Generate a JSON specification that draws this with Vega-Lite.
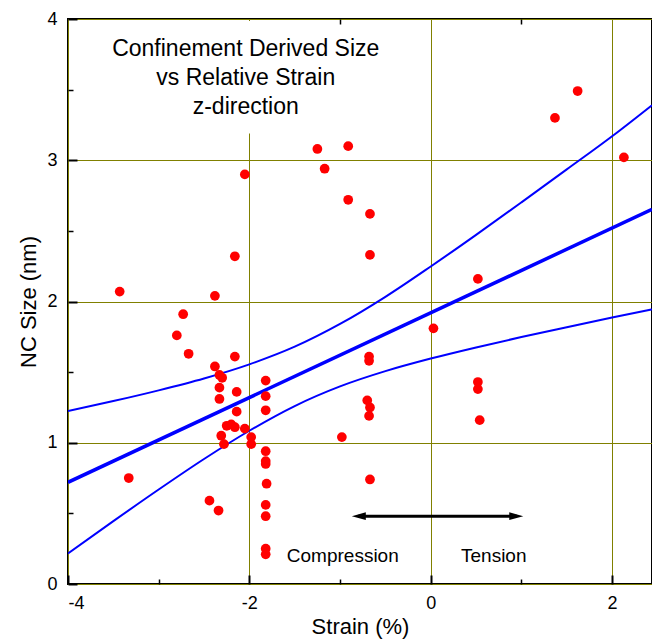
{
  "$schema": "https://vega.github.io/schema/vega-lite/v6.json",
  "width": 584,
  "height": 565,
  "autosize": "none",
  "padding": {"left": 68, "top": 19, "right": 0, "bottom": 57},
  "config": {
    "font": "Liberation Sans",
    "view": {"stroke": "black", "strokeWidth": 2},
    "axis": {"labelColor": "black", "titleColor": "black", "tickColor": "black", "titleFontWeight": "normal"}
  },
  "datasets": {
    "points": [
      {"strain": -3.43, "size": 2.07}, {"strain": -2.73, "size": 1.91}, {"strain": -2.80, "size": 1.76},
      {"strain": -2.67, "size": 1.63}, {"strain": -3.33, "size": 0.75}, {"strain": -2.38, "size": 2.04},
      {"strain": -2.16, "size": 2.32}, {"strain": -2.05, "size": 2.90}, {"strain": -2.38, "size": 1.54},
      {"strain": -2.16, "size": 1.61}, {"strain": -2.33, "size": 1.48}, {"strain": -2.30, "size": 1.46},
      {"strain": -2.33, "size": 1.39}, {"strain": -2.33, "size": 1.31}, {"strain": -2.14, "size": 1.36},
      {"strain": -2.14, "size": 1.22}, {"strain": -2.25, "size": 1.12}, {"strain": -2.20, "size": 1.13},
      {"strain": -2.16, "size": 1.11}, {"strain": -2.05, "size": 1.10}, {"strain": -2.31, "size": 1.05},
      {"strain": -2.28, "size": 0.99}, {"strain": -1.98, "size": 1.04}, {"strain": -1.98, "size": 0.99},
      {"strain": -1.82, "size": 1.44}, {"strain": -1.82, "size": 1.33}, {"strain": -1.82, "size": 1.23},
      {"strain": -1.82, "size": 0.94}, {"strain": -1.82, "size": 0.87}, {"strain": -1.82, "size": 0.85},
      {"strain": -1.81, "size": 0.71}, {"strain": -1.82, "size": 0.56}, {"strain": -1.82, "size": 0.48},
      {"strain": -1.82, "size": 0.25}, {"strain": -1.82, "size": 0.21}, {"strain": -2.44, "size": 0.59},
      {"strain": -2.34, "size": 0.52}, {"strain": -1.25, "size": 3.08}, {"strain": -0.91, "size": 3.10},
      {"strain": -1.17, "size": 2.94}, {"strain": -0.91, "size": 2.72}, {"strain": -0.67, "size": 2.62},
      {"strain": -0.67, "size": 2.33}, {"strain": -0.68, "size": 1.61}, {"strain": -0.68, "size": 1.58},
      {"strain": -0.70, "size": 1.30}, {"strain": -0.67, "size": 1.25}, {"strain": -0.68, "size": 1.19},
      {"strain": -0.98, "size": 1.04}, {"strain": -0.67, "size": 0.74}, {"strain": 0.03, "size": 1.81},
      {"strain": 0.52, "size": 2.16}, {"strain": 0.52, "size": 1.43}, {"strain": 0.52, "size": 1.38},
      {"strain": 0.54, "size": 1.16}, {"strain": 1.37, "size": 3.30}, {"strain": 1.62, "size": 3.49},
      {"strain": 2.13, "size": 3.02}
    ],
    "bands": [
      {"band": "upper", "x": -4, "y": 1.224}, {"band": "upper", "x": -3.5, "y": 1.295},
      {"band": "upper", "x": -3, "y": 1.371}, {"band": "upper", "x": -2.5, "y": 1.455},
      {"band": "upper", "x": -2, "y": 1.555}, {"band": "upper", "x": -1.5, "y": 1.68},
      {"band": "upper", "x": -1, "y": 1.841}, {"band": "upper", "x": -0.5, "y": 2.033},
      {"band": "upper", "x": 0, "y": 2.248}, {"band": "upper", "x": 0.5, "y": 2.472},
      {"band": "upper", "x": 1, "y": 2.702}, {"band": "upper", "x": 1.5, "y": 2.935},
      {"band": "upper", "x": 2, "y": 3.17}, {"band": "upper", "x": 2.44, "y": 3.39},
      {"band": "lower", "x": -4, "y": 0.216}, {"band": "lower", "x": -3.5, "y": 0.445},
      {"band": "lower", "x": -3, "y": 0.669}, {"band": "lower", "x": -2.5, "y": 0.885},
      {"band": "lower", "x": -2, "y": 1.085}, {"band": "lower", "x": -1.5, "y": 1.26},
      {"band": "lower", "x": -1, "y": 1.399}, {"band": "lower", "x": -0.5, "y": 1.507},
      {"band": "lower", "x": 0, "y": 1.596}, {"band": "lower", "x": 0.5, "y": 1.675},
      {"band": "lower", "x": 1, "y": 1.748}, {"band": "lower", "x": 1.5, "y": 1.818},
      {"band": "lower", "x": 2, "y": 1.886}, {"band": "lower", "x": 2.44, "y": 1.944}
    ],
    "fit": [{"x": -4, "y": 0.72}, {"x": 2.44, "y": 2.652}],
    "box": [{"x1": -3.65, "x2": -0.45, "y1": 3.19, "y2": 3.985}],
    "arrow": [{"x": -0.80, "x2": 0.95, "y": 0.48}],
    "heads": [{"x": -0.793, "y": 0.48, "dir": "left"}, {"x": 0.943, "y": 0.48, "dir": "right"}],
    "labels": [{"x": -0.97, "y": 0.20, "text": "Compression"}, {"x": 0.695, "y": 0.20, "text": "Tension"}],
    "title": [{"x": -2.04, "y": 3.79, "text": "Confinement Derived Size\nvs Relative Strain\nz-direction"}]
  },
  "layer": [
    {
      "data": {"name": "box"},
      "mark": {"type": "rect", "fill": "white", "strokeWidth": 0},
      "encoding": {
        "x": {"field": "x1", "type": "quantitative", "scale": {"domain": [-4, 2.44], "nice": false, "zero": false},
              "axis": {"orient": "top", "values": [-1, 1], "tickSize": -5, "tickWidth": 1.5, "labels": false, "domain": false, "grid": false, "title": null, "zindex": 1}},
        "x2": {"field": "x2"},
        "y": {"field": "y1", "type": "quantitative", "scale": {"domain": [0, 4], "nice": false, "zero": false}, "axis": null},
        "y2": {"field": "y2"}
      }
    },
    {
      "data": {"name": "bands"},
      "mark": {"type": "line", "color": "#0000ff", "strokeWidth": 2, "interpolate": "monotone", "clip": true},
      "encoding": {
        "x": {"field": "x", "type": "quantitative", "scale": {"domain": [-4, 2.44], "nice": false, "zero": false},
              "axis": {"orient": "bottom", "values": [-3, -1, 1], "tickSize": -5, "tickWidth": 1.5, "labels": false, "domain": false, "grid": false, "title": null}},
        "y": {"field": "y", "type": "quantitative", "scale": {"domain": [0, 4], "nice": false, "zero": false},
              "axis": {"orient": "left", "values": [0.5, 1.5, 2.5, 3.5], "tickSize": -5, "tickWidth": 1.5, "labels": false, "domain": false, "grid": false, "title": null}},
        "detail": {"field": "band"}
      }
    },
    {
      "data": {"name": "fit"},
      "mark": {"type": "line", "color": "#0000ff", "strokeWidth": 3.5, "clip": true},
      "encoding": {
        "x": {"field": "x", "type": "quantitative", "scale": {"domain": [-4, 2.44], "nice": false, "zero": false}, "axis": null},
        "y": {"field": "y", "type": "quantitative", "scale": {"domain": [0, 4], "nice": false, "zero": false}, "axis": null}
      }
    },
    {
      "data": {"name": "points"},
      "mark": {"type": "circle", "color": "#ff0000", "opacity": 1, "size": 95},
      "encoding": {
        "x": {"field": "strain", "type": "quantitative", "scale": {"domain": [-4, 2.44], "nice": false, "zero": false},
              "axis": {"orient": "bottom", "values": [-4, -2, 0, 2], "tickSize": -9, "tickWidth": 2, "labelFontSize": 18, "labelPadding": 19,
                       "labelExpr": "'' + datum.value", "grid": true, "gridColor": "#808000", "gridWidth": 1, "domain": false,
                       "title": "Strain (%)", "titleFontSize": 22, "titlePadding": 4}},
        "y": {"field": "size", "type": "quantitative", "scale": {"domain": [0, 4], "nice": false, "zero": false},
              "axis": {"orient": "left", "values": [0, 1, 2, 3, 4], "tickSize": -9, "tickWidth": 2, "labelFontSize": 18, "labelPadding": 20,
                       "grid": true, "gridColor": "#808000", "gridWidth": 1, "domain": false,
                       "title": "NC Size (nm)", "titleFontSize": 22, "titlePadding": 6}}
      }
    },
    {
      "data": {"name": "arrow"},
      "mark": {"type": "rule", "color": "black", "strokeWidth": 3},
      "encoding": {
        "x": {"field": "x", "type": "quantitative", "scale": {"domain": [-4, 2.44], "nice": false, "zero": false}, "axis": null},
        "x2": {"field": "x2"},
        "y": {"field": "y", "type": "quantitative", "scale": {"domain": [0, 4], "nice": false, "zero": false}, "axis": null}
      }
    },
    {
      "data": {"name": "heads"},
      "mark": {"type": "point", "filled": true, "color": "black", "opacity": 1, "size": 196},
      "encoding": {
        "x": {"field": "x", "type": "quantitative", "scale": {"domain": [-4, 2.44], "nice": false, "zero": false}, "axis": null},
        "y": {"field": "y", "type": "quantitative", "scale": {"domain": [0, 4], "nice": false, "zero": false}, "axis": null},
        "shape": {"field": "dir", "type": "nominal", "scale": {"domain": ["left", "right"], "range": ["M-1,0L1,-0.55L1,0.55Z", "M1,0L-1,-0.55L-1,0.55Z"]}, "legend": null}
      }
    },
    {
      "data": {"name": "labels"},
      "mark": {"type": "text", "fontSize": 19, "color": "black", "align": "center", "baseline": "middle"},
      "encoding": {
        "x": {"field": "x", "type": "quantitative", "scale": {"domain": [-4, 2.44], "nice": false, "zero": false}, "axis": null},
        "y": {"field": "y", "type": "quantitative", "scale": {"domain": [0, 4], "nice": false, "zero": false}, "axis": null},
        "text": {"field": "text"}
      }
    },
    {
      "data": {"name": "title"},
      "mark": {"type": "text", "fontSize": 23, "color": "black", "align": "center", "baseline": "middle", "lineHeight": 29, "lineBreak": "\n"},
      "encoding": {
        "x": {"field": "x", "type": "quantitative", "scale": {"domain": [-4, 2.44], "nice": false, "zero": false}, "axis": null},
        "y": {"field": "y", "type": "quantitative", "scale": {"domain": [0, 4], "nice": false, "zero": false}, "axis": null},
        "text": {"field": "text"}
      }
    }
  ],
  "resolve": {"axis": {"x": "independent", "y": "independent"}}
}
